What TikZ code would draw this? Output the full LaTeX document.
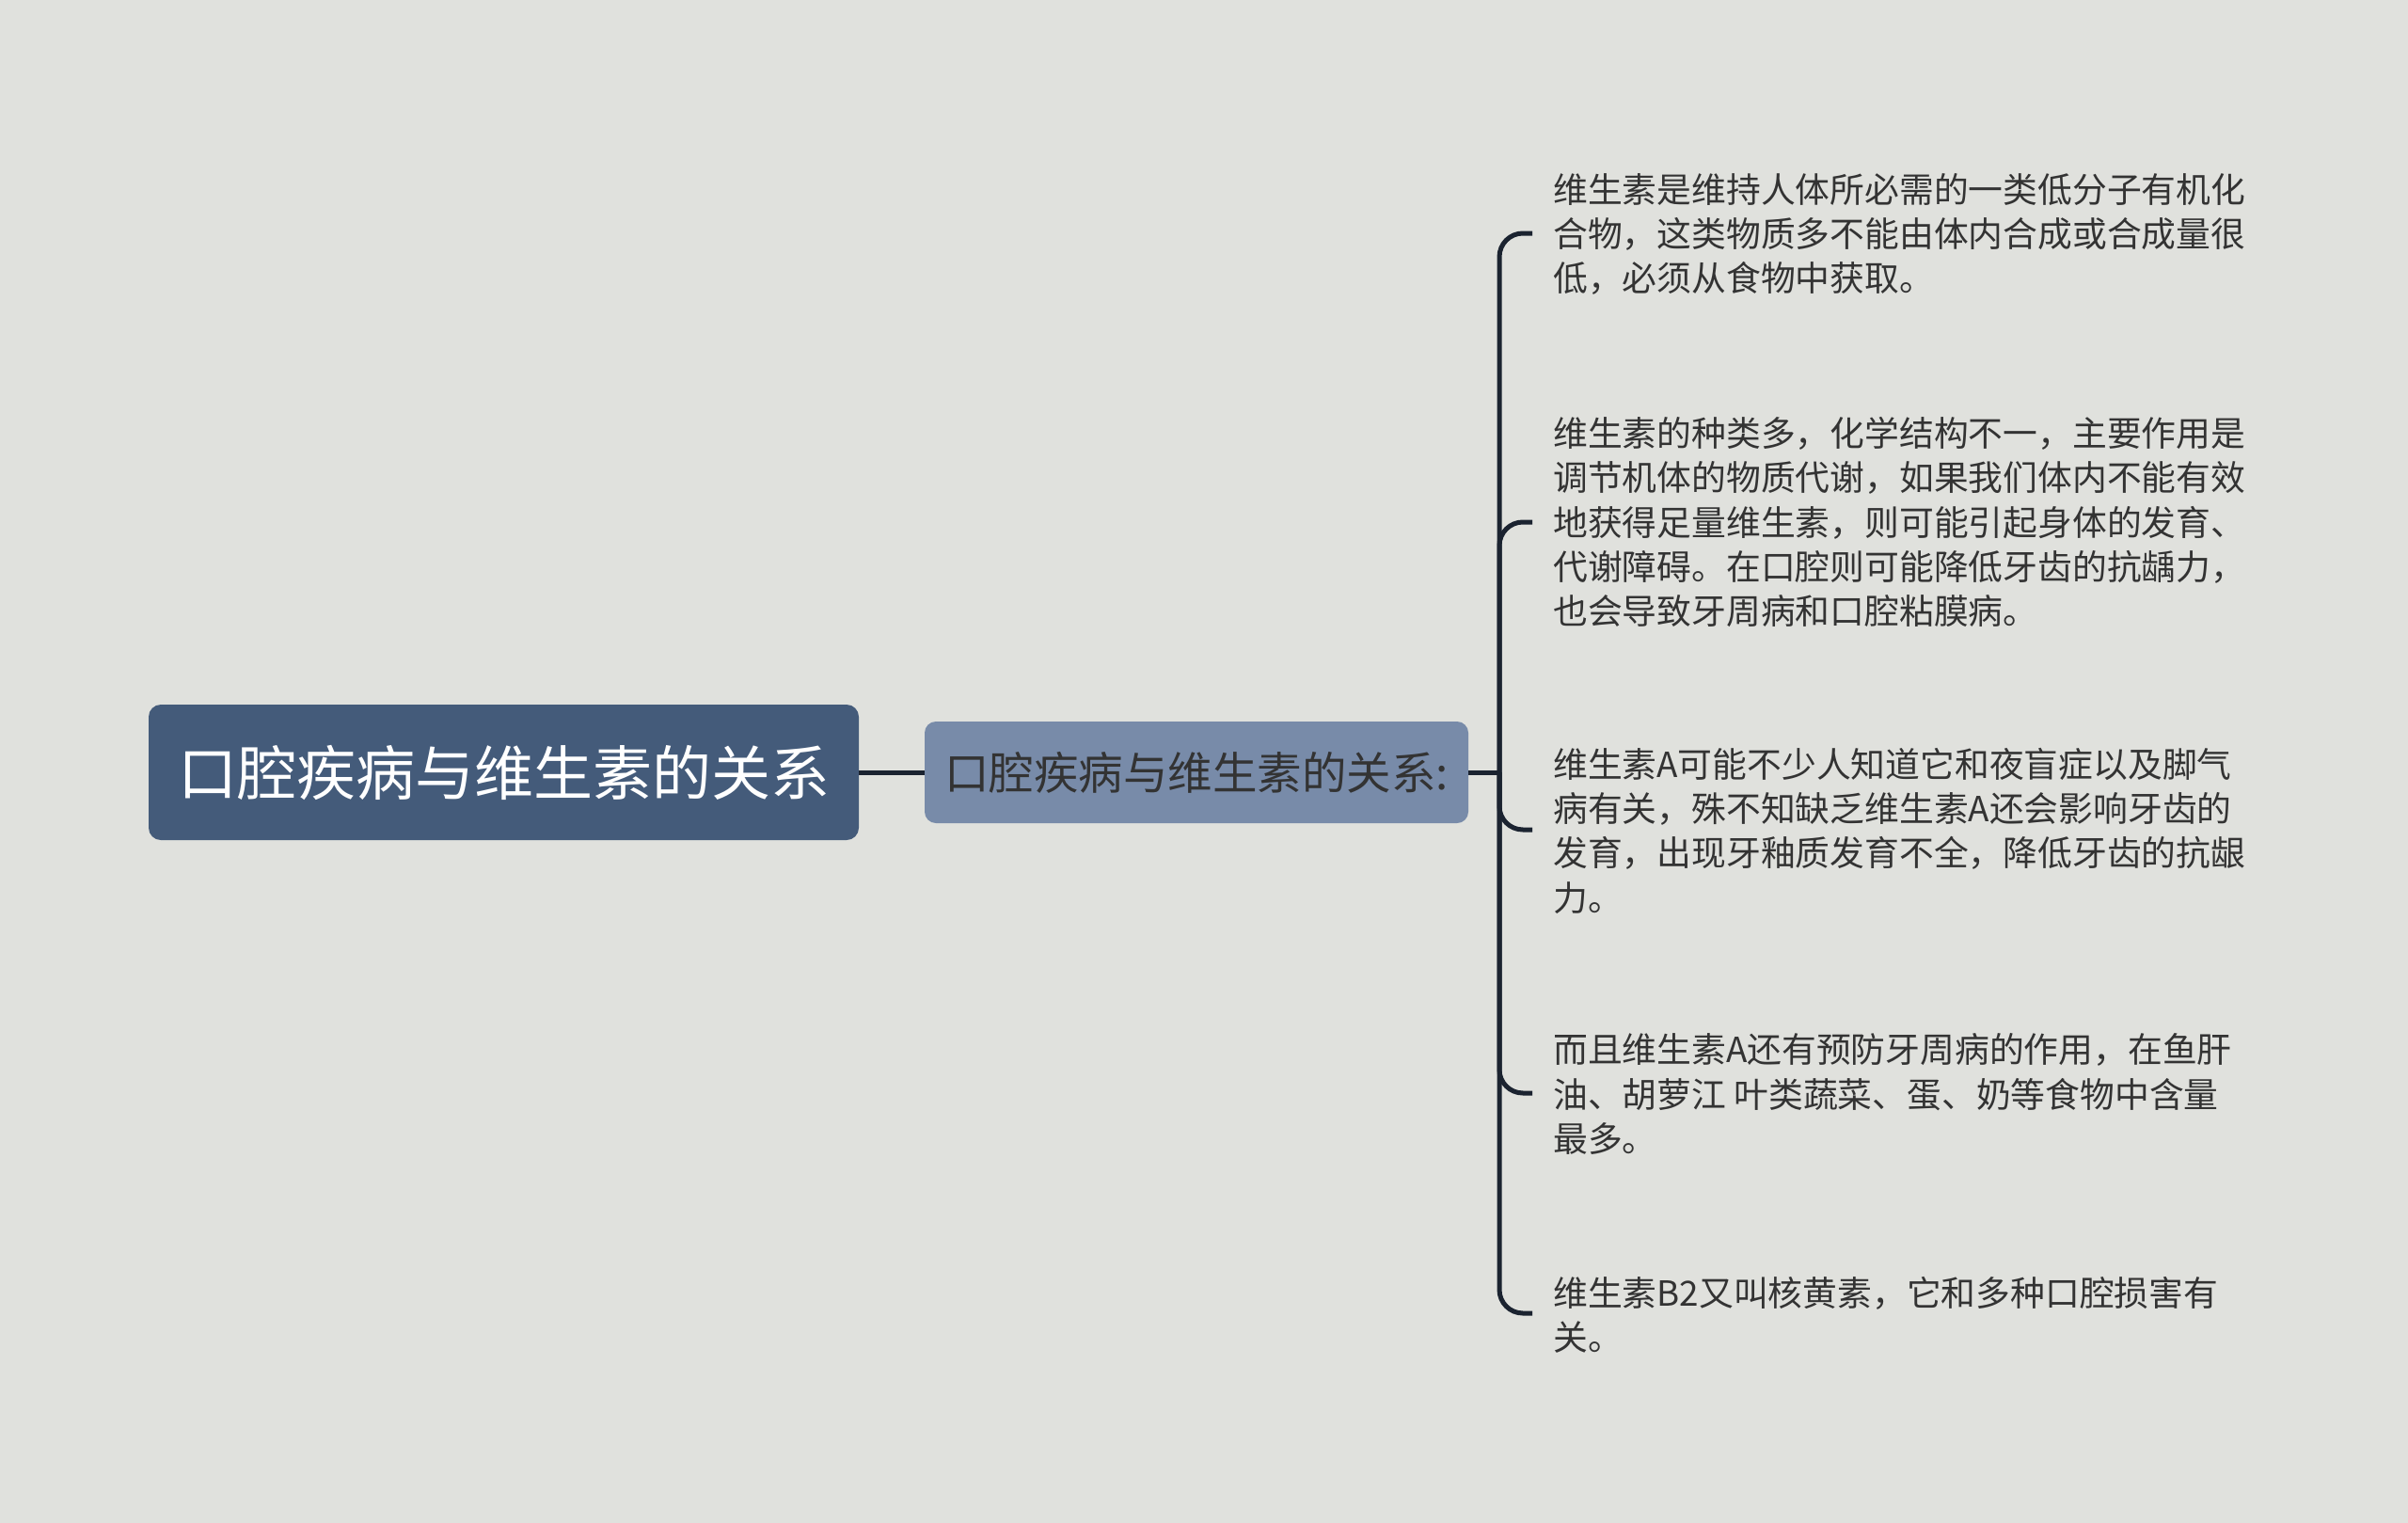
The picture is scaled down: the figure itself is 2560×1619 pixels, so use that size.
\documentclass[tikz,border=0pt]{standalone}
\usepackage{fontspec}
\newfontfamily\cjk{Noto Sans CJK SC}
\definecolor{bg}{HTML}{E0E1DD}
\definecolor{rootfill}{HTML}{445B7A}
\definecolor{subfill}{HTML}{788BA9}
\definecolor{linec}{HTML}{1B2330}
\definecolor{txt}{HTML}{333333}
\begin{document}
\begin{tikzpicture}[x=1pt,y=-1pt,
  rootbox/.style={draw=none,fill=rootfill,rounded corners=13pt,minimum width=755pt,minimum height=144pt,inner sep=0pt,text=white,font=\cjk\fontsize{63}{75}\selectfont},
  subbox/.style={draw=none,fill=subfill,rounded corners=12pt,minimum width=578pt,minimum height=108pt,inner sep=0pt,text=txt,font=\cjk\fontsize{47.5}{56}\selectfont},
  leaf/.style={anchor=west,inner sep=0pt,align=left,text=txt,font=\cjk\fontsize{36.8}{47.4}\selectfont},
  conn/.style={draw=linec,line width=5pt},
  branch/.style={draw=linec,line width=5pt,rounded corners=25pt}]
\fill[bg] (0,0) rectangle (2560,1619);
\useasboundingbox (0,0) rectangle (2560,1619);

\node[rootbox] (root) at (535.5,821) {口腔疾病与维生素的关系};
\node[subbox] (sub) at (1272,821) {口腔疾病与维生素的关系:};

\coordinate (J) at (1594,821);

\node[leaf] (c1) at (1651,249) {维生素是维持人体所必需的一类低分子有机化\\合物，这类物质多不能由体内合成或合成量很\\低，必须从食物中获取。};
\node[leaf] (c2) at (1651,555) {维生素的种类多，化学结构不一，主要作用是\\调节机体的物质代谢，如果我们体内不能有效\\地获得足量维生素，则可能引起身体的发育、\\代谢障碍。在口腔则可能降低牙齿的抗龋力，\\也会导致牙周病和口腔粘膜病。};
\node[leaf] (c3) at (1651,883) {维生素A可能不少人知道它和夜盲症以及脚气\\病有关，殊不知缺乏维生素A还会影响牙齿的\\发育，出现牙釉质发育不全，降低牙齿的抗龈\\力。};
\node[leaf] (c4) at (1651,1163) {而且维生素A还有预防牙周病的作用，在鱼肝\\油、胡萝江 叶类蔬菜、蛋、奶等食物中含量\\最多。};
\node[leaf] (c5) at (1651,1398) {维生素B2又叫核黄素，它和多种口腔损害有\\关。};

\coordinate (e1) at (1629,248);
\coordinate (e2) at (1629,555);
\coordinate (e3) at (1629,882);
\coordinate (e4) at (1629,1162);
\coordinate (e5) at (1629,1396);

\draw[conn] (root.east) -- (sub.west);
\draw[conn] (sub.east) -- (J);
\draw[branch] (J) |- (e1);
\draw[branch] (J) |- (e2);
\draw[branch] (J) |- (e3);
\draw[branch] (J) |- (e4);
\draw[branch] (J) |- (e5);
\end{tikzpicture}
\end{document}
